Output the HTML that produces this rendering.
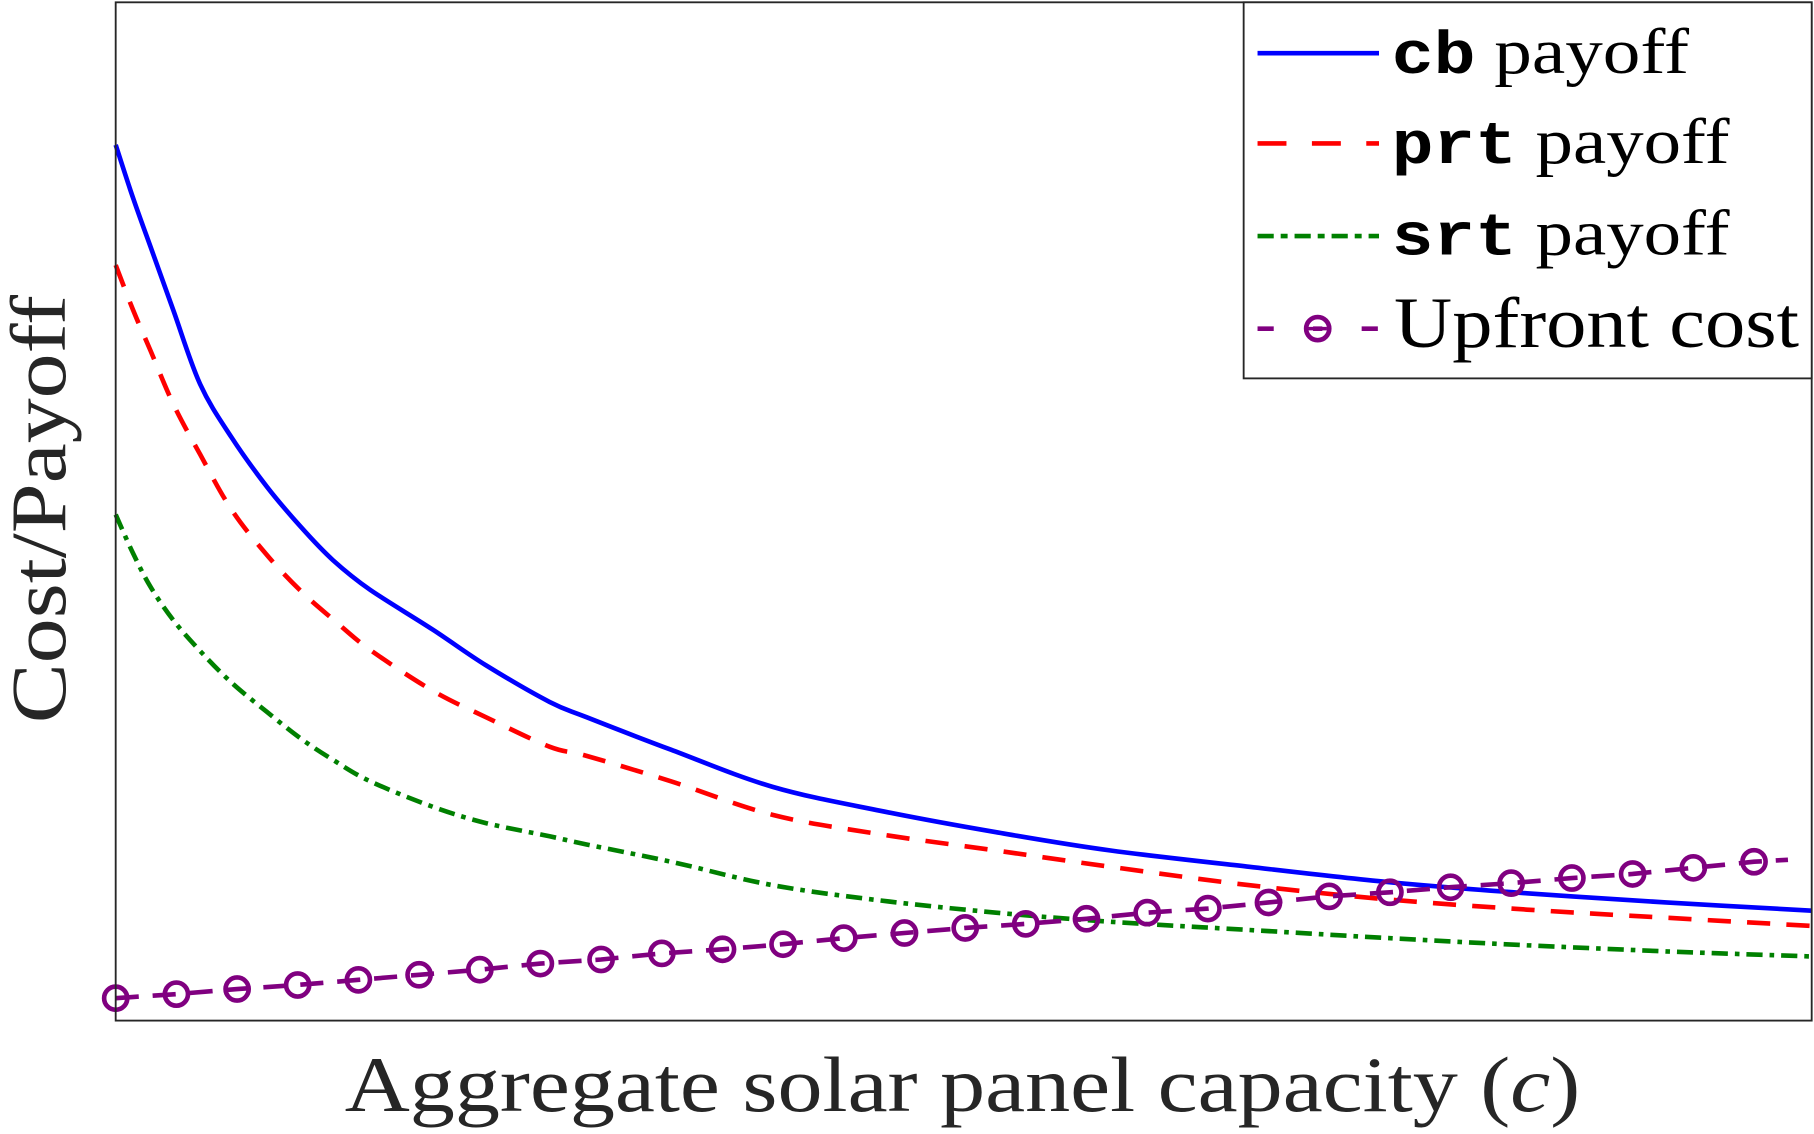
<!DOCTYPE html>
<html><head><meta charset="utf-8"><style>
html,body{margin:0;padding:0;background:#fff;}
svg{display:block;}
</style></head><body>
<svg id="chart" width="1814" height="1134" viewBox="0 0 1568 980" preserveAspectRatio="none" xmlns="http://www.w3.org/2000/svg">
<rect x="0" y="0" width="1568" height="980" fill="#fff"/>
<g id="marks"></g>
<rect x="100" y="2" width="1466" height="880" fill="none" stroke="#262626" stroke-width="1.6"/>
<text x="298" y="960" textLength="1068" lengthAdjust="spacingAndGlyphs" font-family="'Liberation Serif', serif" font-size="68" fill="#262626">Aggregate solar panel capacity (<tspan font-style="italic">c</tspan>)</text>
<text transform="translate(56,625) rotate(-90)" textLength="370" lengthAdjust="spacingAndGlyphs" font-family="'Liberation Serif', serif" font-size="68" fill="#262626">Cost/Payoff</text>
<g>
<rect x="1075" y="2" width="491" height="325" fill="#fff" stroke="#262626" stroke-width="1.6"/>
<line x1="1087" y1="46" x2="1192" y2="46" stroke="#0000ff" stroke-width="4"/>
<text x="1203" y="63" textLength="257" lengthAdjust="spacingAndGlyphs" font-family="'Liberation Serif', serif" font-size="56" fill="#000"><tspan font-family="'Liberation Mono', monospace" font-weight="bold" font-size="52">cb</tspan> payoff</text>
<line x1="1087" y1="124" x2="1192" y2="124" stroke="#ff0000" stroke-width="4" stroke-dasharray="25,22"/>
<text x="1203" y="141" textLength="292" lengthAdjust="spacingAndGlyphs" font-family="'Liberation Serif', serif" font-size="56" fill="#000"><tspan font-family="'Liberation Mono', monospace" font-weight="bold" font-size="52">prt</tspan> payoff</text>
<line x1="1087" y1="204" x2="1192" y2="204" stroke="#008000" stroke-width="4" stroke-dasharray="14,6,6,6"/>
<text x="1203" y="220" textLength="292" lengthAdjust="spacingAndGlyphs" font-family="'Liberation Serif', serif" font-size="56" fill="#000"><tspan font-family="'Liberation Mono', monospace" font-weight="bold" font-size="52">srt</tspan> payoff</text>
<line x1="1087" y1="284" x2="1192" y2="284" stroke="#800080" stroke-width="4" stroke-dasharray="14,34,8,34,14"/>
<circle cx="1139" cy="284" r="10" fill="none" stroke="#800080" stroke-width="4"/>
<line x1="1131" y1="284" x2="1147" y2="284" stroke="#800080" stroke-width="3"/>
<text x="1205" y="300" textLength="350" lengthAdjust="spacingAndGlyphs" font-family="'Liberation Serif', serif" font-size="62" fill="#000">Upfront cost</text>
</g>
</svg>
<script>
const payoffX = [0,0.0102,0.0205,0.0341,0.0498,0.0682,0.0893,0.1091,0.1282,0.1501,0.1869,0.2183,0.2558,0.2776,0.3274,0.3874,0.4509,0.5191,0.5866,0.6685,0.7503,0.8322,0.9141,1];
const cbValues = [86.0,80.8,76.0,69.7,62.5,57.3,52.4,48.5,45.2,42.3,38.4,34.9,31.3,29.8,26.6,22.95,20.6,18.5,16.7,15.1,13.6,12.5,11.6,10.8];
const prtValues = [74.2,69.8,65.8,60.5,55.6,50.2,45.7,42.2,39.4,36.4,32.4,29.8,26.9,26.0,23.5,20.2,18.3,16.7,15.1,13.3,11.9,10.9,10.1,9.3];
const srtValues = [49.7,45.9,42.6,39.3,36.3,33.2,30.3,27.7,25.6,23.5,21.0,19.4,18.1,17.3,15.6,13.3,11.8,10.6,9.7,8.9,8.1,7.4,6.8,6.3];
const costX = [0,0.0358,0.0716,0.1073,0.1431,0.1789,0.2147,0.2504,0.2862,0.322,0.3578,0.3935,0.4293,0.4651,0.5009,0.5366,0.5724,0.6082,0.644,0.6797,0.7155,0.7513,0.7871,0.8228,0.8586,0.8944,0.9302,0.966,0.986];
const costValues = [2.2,2.6,3.1,3.5,4.0,4.5,5.0,5.6,6.0,6.6,7.0,7.5,8.1,8.6,9.1,9.5,10.0,10.6,11.0,11.6,12.2,12.6,13.1,13.5,14.0,14.4,15.0,15.6,15.8];
const markerCount = 28;

const X0=100, X1=1566, Y0=882, Y1=2;
function sx(v){return X0+(X1-X0)*v;}
function sy(v){return Y0-(Y0-Y1)*v/100;}
const NS='http://www.w3.org/2000/svg';
const g=document.getElementById('marks');
function pathFrom(xs,ys){return xs.map((x,i)=>(i?'L':'M')+sx(x).toFixed(1)+','+sy(ys[i]).toFixed(1)).join(' ');}
function smoothPath(xs,ys){
  const p=xs.map((x,i)=>[sx(x),sy(ys[i])]);
  let d='M'+p[0][0]+','+p[0][1];
  for(let i=0;i<p.length-1;i++){
    const a=p[Math.max(i-1,0)],b=p[i],c=p[i+1],e=p[Math.min(i+2,p.length-1)];
    const c1=[b[0]+(c[0]-a[0])/6,b[1]+(c[1]-a[1])/6],c2=[c[0]-(e[0]-b[0])/6,c[1]-(e[1]-b[1])/6];
    d+=' C'+c1[0].toFixed(1)+','+c1[1].toFixed(1)+' '+c2[0].toFixed(1)+','+c2[1].toFixed(1)+' '+c[0].toFixed(1)+','+c[1].toFixed(1);
  }
  return d;
}
function addLine(name,d,color,dash){
  const el=document.createElementNS(NS,'path');
  el.setAttribute('d',d);el.setAttribute('fill','none');el.setAttribute('stroke',color);
  el.setAttribute('stroke-width','4');
  if(dash)el.setAttribute('stroke-dasharray',dash);
  
  
  g.appendChild(el);
}
addLine('series-srt-payoff',smoothPath(payoffX,srtValues),'#008000','14,6,4,6');
addLine('series-prt-payoff',smoothPath(payoffX,prtValues),'#ff0000','20,14');
addLine('series-cb-payoff',smoothPath(payoffX,cbValues),'#0000ff',null);
addLine('series-upfront-cost',pathFrom(costX,costValues),'#800080','20,12');
for(let i=0;i<markerCount;i++){
  const c=document.createElementNS(NS,'circle');
  c.setAttribute('cx',sx(costX[i]));c.setAttribute('cy',sy(costValues[i]));
  c.setAttribute('r','10');c.setAttribute('fill','none');c.setAttribute('stroke','#800080');c.setAttribute('stroke-width','4');
  
  
  g.appendChild(c);
}
</script>
</body></html>
